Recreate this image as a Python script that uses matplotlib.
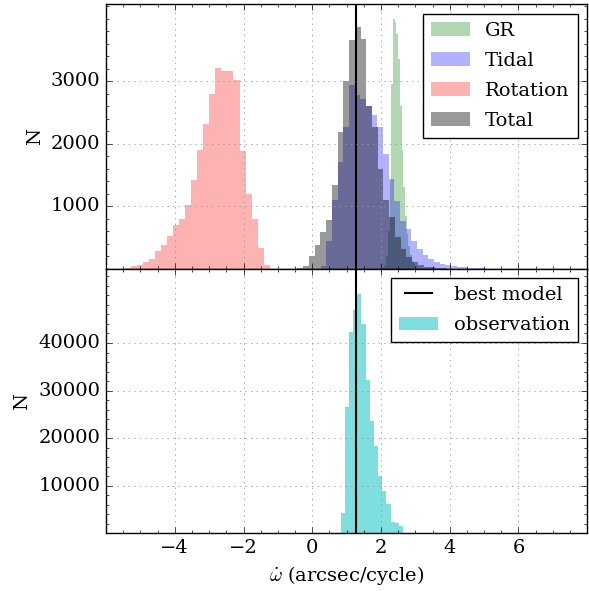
import matplotlib
matplotlib.use("Agg")
import matplotlib.pyplot as plt
from matplotlib.ticker import MultipleLocator
import numpy as np

# histogram counts (start = left edge of first bin)
gr_start, gr_width = 2.00, 0.05
gr_counts = [5, 20, 60, 200, 600, 1400, 2950, 3990, 3950, 3750, 3350, 2600,
             1900, 1300, 850, 560, 360, 220, 130, 75, 40, 20, 10]

tidal_start, tidal_width = 0.242, 0.165
tidal_counts = [40, 450, 1100, 1700, 2270, 2944, 2780, 2720, 2608, 2464, 2261,
                1835, 1435, 1088, 768, 635, 448, 315, 224, 155, 101, 75, 53,
                43, 32, 21, 16, 10, 6]

rot_start, rot_width = -5.46, 0.176
rot_counts = [16, 37, 53, 107, 160, 277, 384, 523, 699, 800, 1019, 1424, 1899,
              2320, 2795, 3216, 3157, 3157, 3024, 1888, 1195, 800, 331, 64]

total_start, total_width = -0.43, 0.1668
total_counts = [15, 50, 209, 380, 588, 781, 1332, 2187, 3005, 3663, 3866, 3674,
                2600, 2261, 1595, 1100, 821, 501, 315, 181, 101, 59, 32, 21,
                10, 5]

obs_start, obs_width = 0.822, 0.1215
obs_counts = [4375, 26530, 42360, 46880, 50200, 43960, 32290, 23610, 18400,
              12150, 8820, 6110, 2430, 2220, 1530]

best_model = 1.28


def edges(start, width, counts):
    return start + width * np.arange(len(counts) + 1)


def draw_hist(ax, start, width, counts, color, alpha, label):
    e = edges(start, width, counts)
    ax.hist(e[:-1], bins=e, weights=counts, histtype='stepfilled',
            color=color, alpha=alpha, lw=0, label=label)


plt.style.use('classic')
plt.rcParams['font.family'] = 'serif'
plt.rcParams['font.size'] = 14
plt.rcParams['legend.fontsize'] = 14
plt.rcParams['legend.labelspacing'] = 0.62

fig = plt.figure(figsize=(5.89, 5.91), dpi=100, facecolor='white')
ax1 = fig.add_subplot(211)
ax2 = fig.add_subplot(212, sharex=ax1)
fig.subplots_adjust(left=0.18, right=0.997, top=0.993, bottom=0.0975, hspace=0)

grid_kw = dict(color='0.6', linestyle=':', linewidth=0.6)

draw_hist(ax1, gr_start, gr_width, gr_counts, 'g', 0.3, 'GR')
draw_hist(ax1, tidal_start, tidal_width, tidal_counts, 'b', 0.3, 'Tidal')
draw_hist(ax1, rot_start, rot_width, rot_counts, 'r', 0.3, 'Rotation')
draw_hist(ax1, total_start, total_width, total_counts, 'k', 0.4, 'Total')
ax1.axvline(best_model, color='k', lw=1.5)
ax1.legend(loc='upper right')
ax1.set_ylabel('N')
ax1.set_ylim(0, 4230)
ax1.set_yticks([1000, 2000, 3000])
ax1.yaxis.set_minor_locator(MultipleLocator(200))
ax1.grid(True, **grid_kw)
plt.setp(ax1.get_xticklabels(), visible=False)

ax2.axvline(best_model, color='k', lw=1.5, label='best model')
draw_hist(ax2, obs_start, obs_width, obs_counts, 'c', 0.5, 'observation')
ax2.legend(loc='upper right')
ax2.set_ylabel('N')
ax2.set_ylim(0, 55600)
ax2.set_yticks([10000, 20000, 30000, 40000])
ax2.yaxis.set_minor_locator(MultipleLocator(2000))
ax2.grid(True, **grid_kw)

ax2.set_xlim(-6, 8)
ax2.set_xticks([-4, -2, 0, 2, 4, 6])
ax2.xaxis.set_minor_locator(MultipleLocator(0.5))
ax2.set_xlabel(r'$\dot{\omega}$ (arcsec/cycle)')

fig.savefig('out.png', dpi=100, facecolor='white')
